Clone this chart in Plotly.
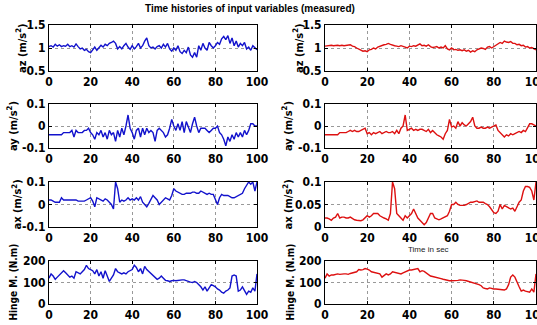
import plotly.graph_objects as go

t = list(range(101))

az_meas = [1.03,1.05,1.02,1.08,1.04,1.07,1.03,1.05,1.04,1.08,
           1.03,1.05,1.02,1.09,1.03,0.98,1.00,0.95,0.97,0.92,
           0.90,0.96,1.02,0.95,1.00,1.06,1.02,1.08,1.05,1.10,
           1.12,1.15,1.10,0.98,1.03,0.98,1.05,1.10,1.02,0.97,
           1.05,0.98,1.03,1.10,1.00,1.05,1.15,1.22,1.05,1.00,
           1.02,0.98,1.03,1.05,1.00,1.08,1.02,1.10,0.98,0.93,
           1.00,0.95,1.05,0.92,0.88,0.95,0.90,1.02,0.85,0.80,
           0.90,0.80,1.05,0.95,1.10,1.00,0.95,1.12,1.05,1.00,
           1.05,1.12,1.08,1.20,1.25,1.18,1.27,1.10,1.22,1.05,
           1.15,1.02,1.10,1.05,1.12,0.98,1.02,0.95,1.05,1.00,
           0.96]
az_filt = [1.04,1.05,1.05,1.06,1.05,1.06,1.06,1.05,1.06,1.05,
           1.06,1.06,1.07,1.04,1.03,1.00,0.98,0.95,0.93,0.94,
           0.92,0.96,0.97,1.00,0.98,1.02,1.04,1.05,1.07,1.08,
           1.10,1.08,1.06,1.05,1.04,1.03,1.05,1.04,1.02,1.00,
           1.04,1.03,1.05,1.04,1.06,1.09,1.05,1.06,1.04,1.07,
           1.03,1.01,1.02,1.03,1.00,1.02,1.00,1.05,0.98,0.96,
           1.00,0.96,0.97,0.95,0.96,0.94,0.96,0.93,0.95,0.91,
           0.94,0.92,0.96,0.98,1.00,0.99,0.97,1.02,1.03,1.00,
           1.03,1.06,1.08,1.12,1.10,1.15,1.13,1.12,1.14,1.10,
           1.10,1.07,1.08,1.05,1.06,1.02,1.03,1.00,1.01,0.98,
           0.96]
ay_meas = [-0.04,-0.04,-0.04,-0.04,-0.04,-0.04,-0.04,-0.03,-0.03,-0.03,
           -0.03,-0.02,-0.05,-0.02,-0.03,-0.03,-0.03,-0.02,-0.02,-0.01,
           -0.03,-0.04,-0.06,-0.03,-0.04,-0.02,-0.05,-0.03,-0.06,-0.02,
           -0.04,-0.03,-0.07,-0.02,-0.05,-0.01,-0.04,0.00,0.05,-0.01,
           -0.03,-0.06,-0.02,-0.01,-0.05,-0.01,-0.04,-0.01,-0.03,-0.02,
           -0.03,-0.07,-0.02,-0.01,-0.02,-0.03,-0.05,-0.04,-0.01,0.03,
           0.00,-0.02,0.01,-0.02,0.02,-0.03,0.02,-0.01,-0.03,0.01,
           0.04,0.00,-0.03,-0.01,-0.01,-0.01,-0.02,-0.03,-0.02,-0.01,
           -0.01,0.00,-0.03,-0.04,-0.06,-0.09,-0.05,-0.07,-0.04,-0.06,
           -0.03,-0.05,-0.03,-0.05,-0.02,-0.04,-0.02,0.01,0.01,0.00,
           0.00]
ay_filt = [-0.04,-0.04,-0.04,-0.04,-0.04,-0.04,-0.04,-0.03,-0.03,-0.03,
           -0.03,-0.025,-0.02,-0.025,-0.02,-0.025,-0.025,-0.02,-0.015,-0.01,
           -0.035,-0.03,-0.04,-0.03,-0.035,-0.03,-0.025,-0.035,-0.03,-0.025,
           -0.03,-0.03,-0.025,-0.035,-0.02,-0.035,-0.01,0.0,0.05,-0.02,
           -0.015,-0.01,-0.02,-0.015,-0.02,-0.015,-0.015,-0.02,-0.025,-0.015,
           -0.03,-0.02,-0.03,-0.04,-0.045,-0.05,-0.06,-0.035,-0.02,0.03,
           -0.005,0.0,-0.01,0.02,0.0,0.015,0.005,0.0,0.01,0.02,
           0.04,0.0,-0.01,-0.01,-0.005,-0.01,-0.01,-0.005,-0.01,-0.005,
           0.0,0.005,-0.02,-0.03,-0.04,-0.05,-0.04,-0.045,-0.035,-0.04,
           -0.035,-0.03,-0.025,-0.03,-0.02,-0.025,-0.01,0.01,0.01,0.005,
           0.0]
ax_meas = [0.02,0.02,0.015,0.01,0.01,0.01,0.03,0.02,0.02,0.02,
           0.02,0.02,0.02,0.02,0.015,0.015,0.015,0.015,0.02,0.025,
           0.03,0.015,-0.01,0.03,0.025,0.02,0.015,0.025,0.02,0.01,
           0.0,-0.02,0.10,0.07,0.01,0.02,0.015,0.02,0.03,0.02,
           0.025,0.02,0.03,0.02,0.035,0.01,0.0,-0.01,0.005,0.02,
           0.04,0.03,0.02,0.0,0.01,0.02,0.03,0.025,0.02,0.04,
           0.07,0.06,0.055,0.05,0.045,0.045,0.05,0.05,0.05,0.055,
           0.055,0.05,0.05,0.06,0.055,0.05,0.045,0.05,0.045,0.045,
           0.02,0.0,0.03,0.045,0.04,0.04,0.04,0.035,0.03,0.03,
           0.035,0.04,0.045,0.05,0.07,0.085,0.10,0.09,0.10,0.06,
           0.10]
ax_filt = [0.02,0.02,0.018,0.015,0.02,0.022,0.03,0.02,0.022,0.022,
           0.02,0.02,0.022,0.018,0.016,0.015,0.015,0.014,0.016,0.02,
           0.025,0.022,0.025,0.03,0.03,0.03,0.025,0.022,0.02,0.018,
           0.015,0.03,0.10,0.085,0.03,0.025,0.02,0.015,0.025,0.02,
           0.025,0.03,0.04,0.03,0.02,0.015,0.01,0.005,0.01,0.02,
           0.03,0.03,0.02,0.018,0.016,0.018,0.02,0.022,0.025,0.035,
           0.05,0.05,0.055,0.05,0.048,0.048,0.048,0.05,0.052,0.055,
           0.055,0.056,0.058,0.055,0.055,0.055,0.052,0.05,0.045,0.038,
           0.032,0.03,0.035,0.05,0.04,0.048,0.045,0.042,0.04,0.042,
           0.035,0.045,0.055,0.06,0.08,0.09,0.09,0.088,0.08,0.06,
           0.10]
hm_meas = [120,140,130,115,125,135,145,155,145,135,
           125,130,120,150,145,140,150,160,180,165,
           160,155,140,160,130,150,120,155,130,105,
           120,135,165,150,145,140,145,140,150,155,
           160,180,170,150,165,140,175,160,150,145,
           135,125,115,120,130,120,110,108,105,108,
           110,108,110,110,112,112,108,105,102,100,
           105,100,90,80,65,80,60,75,90,85,
           80,70,65,55,50,60,65,75,130,135,
           130,60,65,80,65,45,60,55,75,60,
           140]
hm_filt = [120,140,130,135,135,138,140,138,140,140,
           140,138,142,145,145,150,160,158,160,165,
           162,158,150,148,145,142,140,125,135,140,
           135,140,150,148,145,145,140,145,150,155,
           158,158,160,162,165,150,155,152,145,140,
           130,128,126,125,122,118,115,112,110,108,
           108,108,110,110,112,112,110,108,105,102,
           100,98,95,90,85,75,72,70,75,72,
           70,70,68,66,65,65,70,90,125,135,
           125,100,80,60,65,60,58,55,70,55,
           140]

x_ticks = [0, 20, 40, 60, 80, 100]
y_labels = ["az (m/s<sup>2</sup>)", "ay (m/s<sup>2</sup>)", "ax (m/s<sup>2</sup>)", "Hinge M. (N.m)"]
title_text = "Time histories of input variables (measured)"
xlabel_text = "Time in sec"

W, H = 537, 325
col_px = [(49, 257), (325, 536)]
row_px = [(25, 71), (104, 148), (182, 227), (261, 304)]
ytitle_x = [[22, 13, 17, 13], [299, 288, 288, 290]]
ytitle_size = [11, 11, 11, 10]

yspec = {
    (0, 0): ([0.5, 1.5], [0.5, 1, 1.5], ["0.5", "1", "1.5"]),
    (0, 1): ([0.5, 1.5], [0.5, 1, 1.5], ["0.5", "1", "1.5"]),
    (1, 0): ([-0.1, 0.1], [-0.1, 0, 0.1], ["-0.1", "0", "0.1"]),
    (1, 1): ([-0.1, 0.1], [-0.1, 0, 0.1], ["-0.1", "0", "0.1"]),
    (2, 0): ([-0.1, 0.1], [-0.1, 0, 0.1], ["-0.1", "0", "0.1"]),
    (2, 1): ([0, 0.1], [0, 0.05, 0.1], ["0", "0.05", "0.1"]),
    (3, 0): ([0, 200], [0, 100, 200], ["0", "100", "200"]),
    (3, 1): ([0, 200], [0, 100, 200], ["0", "100", "200"]),
}
series = {
    (0, 0): az_meas, (0, 1): az_filt,
    (1, 0): ay_meas, (1, 1): ay_filt,
    (2, 0): ax_meas, (2, 1): ax_filt,
    (3, 0): hm_meas, (3, 1): hm_filt,
}
colors = ["#1212cc", "#dd1010"]

NARROW = "DejaVu Sans Condensed, Liberation Sans Narrow, Arial Narrow, sans-serif"
tickfont = dict(family=NARROW, size=12, color="black", weight="bold")
fig = go.Figure()
layout = dict(width=W, height=H, margin=dict(l=0, r=0, t=0, b=0, autoexpand=False),
              paper_bgcolor="white", plot_bgcolor="white", showlegend=False)
annotations = []
k = 0
for r in range(4):
    for c in range(2):
        k += 1
        xa = "xaxis" if k == 1 else f"xaxis{k}"
        ya = "yaxis" if k == 1 else f"yaxis{k}"
        xr = "x" if k == 1 else f"x{k}"
        yr = "y" if k == 1 else f"y{k}"
        x0, x1 = col_px[c]
        y0, y1 = row_px[r]
        rng, tv, tt = yspec[(r, c)]
        fig.add_trace(go.Scatter(x=t, y=series[(r, c)], mode="lines",
                                 line=dict(color=colors[c], width=1.4),
                                 xaxis=xr, yaxis=yr, hoverinfo="skip"))
        common = dict(showline=True, linecolor="black", linewidth=1, mirror="ticks",
                      ticks="inside", ticklen=3, tickcolor="black",
                      showgrid=True, gridcolor="#999999", griddash="dot", gridwidth=1,
                      zeroline=False, tickfont=tickfont, automargin=False,
                      ticklabeloverflow="allow")
        layout[xa] = dict(domain=[x0 / W, x1 / W], range=[0, 100], tickvals=x_ticks,
                          anchor=yr, ticklabelstandoff=0, **common)
        layout[ya] = dict(domain=[1 - y1 / H, 1 - y0 / H], range=rng, tickvals=tv,
                          ticktext=tt, anchor=xr, ticklabelstandoff=0, **common)
        annotations.append(dict(text=y_labels[r], xref="paper", yref="paper",
                                x=ytitle_x[c][r] / W, y=1 - (y0 + y1) / 2 / H,
                                xanchor="center", yanchor="middle", textangle=-90,
                                showarrow=False,
                                font=dict(family=NARROW, size=ytitle_size[r], color="black",
                                          weight="bold")))

annotations.append(dict(text=title_text, xref="paper", yref="paper",
                        x=250 / W, y=1 - 9 / H, xanchor="center", yanchor="middle",
                        showarrow=False,
                        font=dict(family="Liberation Sans, Arial, sans-serif", size=10,
                                  color="black", weight="bold")))
annotations.append(dict(text=xlabel_text, xref="paper", yref="paper",
                        x=428 / W, y=1 - 249 / H, xanchor="center", yanchor="middle",
                        showarrow=False,
                        font=dict(family="Liberation Sans, Arial, sans-serif", size=8,
                                  color="#222222")))
layout["annotations"] = annotations
fig.update_layout(**layout)
fig.write_html("out.html", config={"displayModeBar": False},
               post_script="document.body.style.margin='0';document.body.style.overflow='hidden';")
